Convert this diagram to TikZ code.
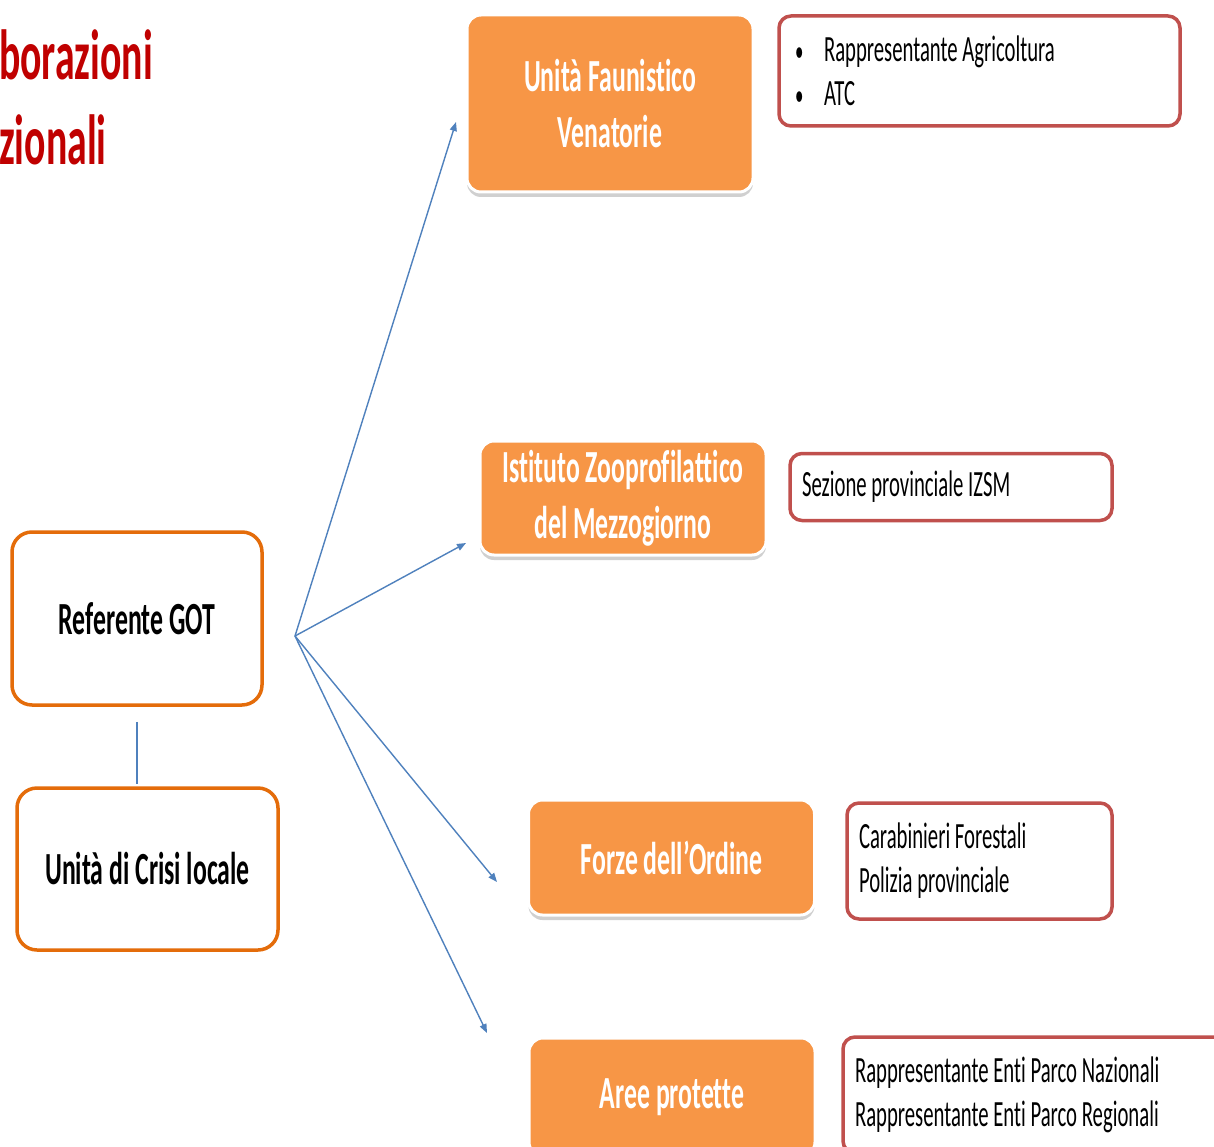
\documentclass[tikz,border=0pt]{standalone}
\usepackage{fontspec}
\setmainfont{Carlito}[FakeStretch=0.56, Ligatures=NoCommon]
\usetikzlibrary{shadows,arrows.meta}
\definecolor{orfill}{HTML}{F79646}
\definecolor{orline}{HTML}{E46C0A}
\definecolor{redline}{HTML}{C0504D}
\definecolor{blueln}{HTML}{4F81BD}
\definecolor{titlered}{HTML}{C00000}
\begin{document}
\begin{tikzpicture}[x=1pt,y=-1pt,
  orbox/.style={rectangle, rounded corners=14pt, fill=orfill, draw=white, line width=3pt,
    text=white, font=\fontsize{46}{56}\selectfont\bfseries, align=flush center, inner sep=0pt,
    minimum width=286pt,
    drop shadow={shadow xshift=0pt, shadow yshift=-5pt, opacity=0.3, fill=black!60}},
  gotbox/.style={rectangle, rounded corners=20pt, fill=white, draw=orline, line width=3.5pt,
    text=black, font=\fontsize{46}{56}\selectfont\bfseries, align=flush center, inner sep=0pt},
  detbox/.style={rectangle, rounded corners=12pt, fill=white, draw=redline, line width=3.5pt,
    text=black, font=\fontsize{37}{44}\selectfont, align=flush left, inner ysep=0pt, inner xsep=0pt},
  conn/.style={draw=blueln, line width=1.4pt},
  arr/.style={conn, -{Triangle[length=9pt,width=7pt]}},
  titletext/.style={text=titlered, font=\fontsize{71}{85}\selectfont\bfseries, inner sep=0pt, anchor=base west}
]
\useasboundingbox (0,0) rectangle (1214,1147);
\fill[white] (0,0) rectangle (1214,1147);

% title (cut off at left edge)
\node[titletext] (title1) at (-1,80) {borazioni};
\node[titletext] (title2) at (-1,165) {zionali};

% left boxes
\node[gotbox, minimum width=250pt, minimum height=173pt] (rg) at (137,618.5) {Referente GOT};
\node[gotbox, minimum width=261pt, minimum height=162pt] (uc) at (147.5,869) {Unità di Crisi locale};
\draw[conn, shorten <=15pt, shorten >=2pt] (rg.south) -- (rg.south |- uc.north);

% orange boxes
\node[orbox, minimum height=177pt] (ufv) at (610,103.5) {Unità Faunistico\\Venatorie};
\node[orbox, minimum height=114pt] (izs) at (623,498) {Istituto Zooprofilattico\\del Mezzogiorno};
\node[orbox, minimum height=115pt] (fo) at (671.5,857.5) {Forze dell’Ordine};
\node[orbox, minimum height=118pt] (ap) at (672,1097) {Aree protette};

% detail boxes
\node[detbox, minimum width=401pt, minimum height=110pt, text width=369pt] (d1) at (979.5,71)
  {\makebox[29pt][l]{\fontsize{30}{44}\selectfont•}Rappresentante Agricoltura\\\makebox[29pt][l]{\fontsize{30}{44}\selectfont•}ATC};
\node[detbox, minimum width=322pt, minimum height=67pt, text width=298pt] (d2) at (951,487)
  {Sezione provinciale IZSM};
\node[detbox, minimum width=265pt, minimum height=116pt, text width=241pt] (d3) at (979.5,861)
  {Carabinieri Forestali\\Polizia provinciale};
\node[detbox, minimum width=390pt, minimum height=116pt, text width=366pt] (d4) at (1038,1095)
  {Rappresentante Enti Parco Nazionali\\Rappresentante Enti Parco Regionali};

% arrows
\coordinate (hub) at (295,636);
\coordinate (t1) at (456,122);
\coordinate (t2) at (466,543);
\coordinate (t3) at (497,882);
\coordinate (t4) at (487,1033);
\draw[arr] (hub) -- (t1);
\draw[arr] (hub) -- (t2);
\draw[arr] (hub) -- (t3);
\draw[arr] (hub) -- (t4);
\end{tikzpicture}
\end{document}
